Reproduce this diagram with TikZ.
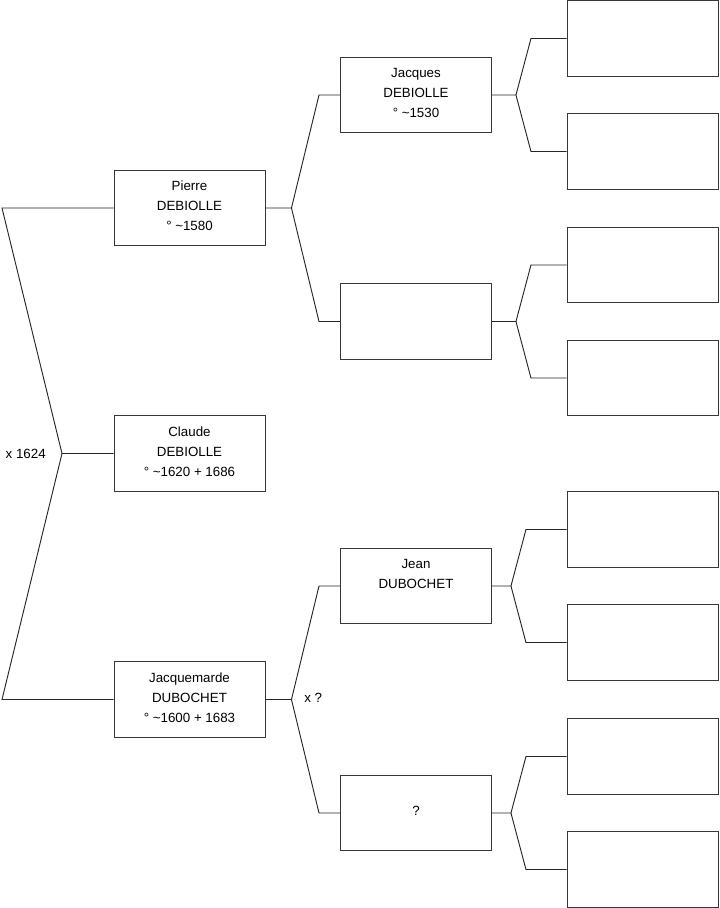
\documentclass[tikz,border=0pt]{standalone}
\usepackage{fontspec}
\setmainfont{Liberation Sans}
\definecolor{boxgray}{RGB}{55,55,55}

\begin{document}
\begin{tikzpicture}[x=0.75pt,y=-0.75pt,
    indi/.style={draw=boxgray,line width=0.7pt,minimum width=113.25pt,minimum height=56.6pt,
      inner sep=0pt,text depth=3pt,align=center,font=\fontsize{10}{15}\selectfont},
    note/.style={inner sep=0pt,font=\fontsize{10}{15}\selectfont},
    link/.style={black!85,line width=0.7pt}]
  \useasboundingbox (0,0) rectangle (719,908);
  % generation 1
  \node[indi] (pierre) at (189.5,208) {Pierre\\DEBIOLLE\\° \textasciitilde1580};
  \node[indi] (claude) at (189.5,453.5) {Claude\\DEBIOLLE\\° \textasciitilde1620 + 1686};
  \node[indi] (jacquemarde) at (189.5,699.5) {Jacquemarde\\DUBOCHET\\° \textasciitilde1600 + 1683};
  % generation 2
  \node[indi] (jacques) at (416,95) {Jacques\\DEBIOLLE\\° \textasciitilde1530};
  \node[indi] (pgm) at (416,321.5) {};
  \node[indi] (jean) at (416,586) {Jean\\DUBOCHET\\\mbox{}};
  \node[indi] (mgm) at (416,813) {?};
  % generation 3, still unknown
  \foreach \y [count=\i] in {38.5,151.5,265,378,529.5,642.5,756.5,869.5}
    \node[indi] (g\i) at (642.5,\y) {};
  % marriages
  \node[note,anchor=east] (wed1) at (46,453.5) {x 1624};
  \node[note,anchor=west] (wed2) at (304,698) {x ?};
  % forks
  \coordinate (j0) at (62,453.5);
  \draw[link] (claude.west) -- (j0) -- (2,208) -- (pierre.west);
  \draw[link] (j0) -- (2,699.5) -- (jacquemarde.west);
  \draw[link] (pierre.east) -- ++(26,0) coordinate (jp) -- (319,95) -- (jacques.west);
  \draw[link] (jp) -- (319,321.5) -- (pgm.west);
  \draw[link] (jacquemarde.east) -- ++(26,0) coordinate (jm) -- (319,586) -- (jean.west);
  \draw[link] (jm) -- (319,813) -- (mgm.west);
  \foreach \p/\a/\b/\jx in {jacques/1/2/24,pgm/3/4/24,jean/5/6/19,mgm/7/8/19} {
    \draw[link] (\p.east) -- ++(\jx,0) coordinate (k) -- ++(15,-56.5) -- (g\a.west);
    \draw[link] (k) -- ++(15,56.5) -- (g\b.west);
  }
\end{tikzpicture}
\end{document}
